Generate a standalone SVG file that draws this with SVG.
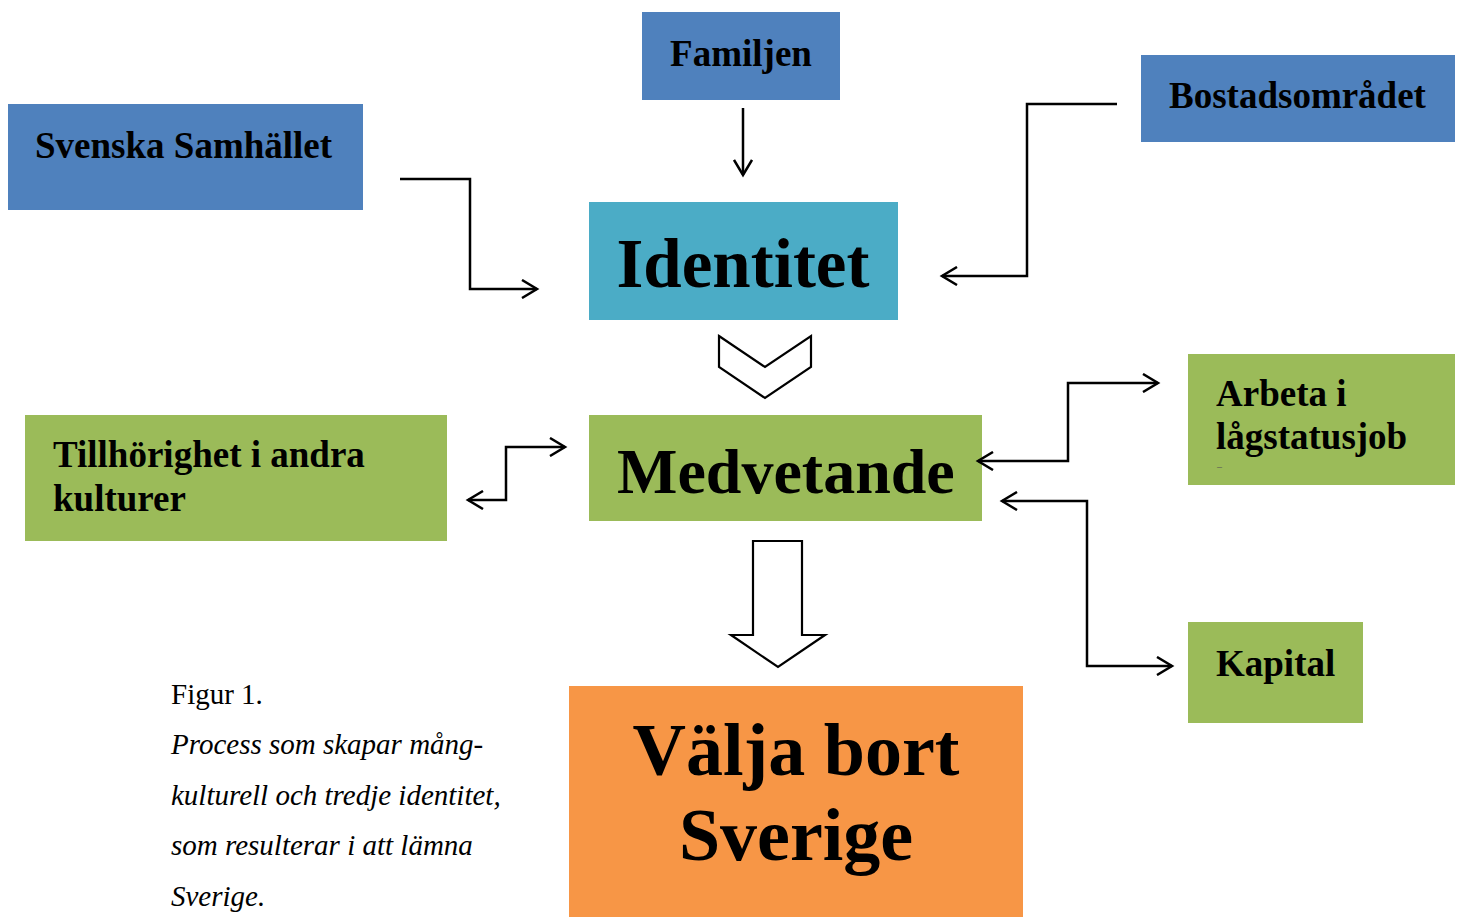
<svg xmlns="http://www.w3.org/2000/svg" width="1460" height="917" viewBox="0 0 1460 917">
<defs>
<style>
.lbl{font-family:"Liberation Serif","Times New Roman",serif;font-weight:bold;fill:#000}
.con{fill:none;stroke:#000;stroke-width:2.5;stroke-linejoin:miter}
.shape{fill:#fff;stroke:#000;stroke-width:2.2;stroke-linejoin:miter}
.cap{font-family:"Liberation Serif","Times New Roman",serif;font-size:29px;fill:#000}
</style>
<marker id="ah" viewBox="0 0 20 20" refX="17" refY="10" markerWidth="20" markerHeight="20" markerUnits="userSpaceOnUse" orient="auto-start-reverse">
<path d="M2,1 L17,10 L2,19" fill="none" stroke="#000" stroke-width="2.5"/>
</marker>
</defs>
<rect width="1460" height="917" fill="#fff"/>
<g id="familjen"><rect x="642" y="12" width="198" height="88" fill="#4F81BD"/><text class="lbl" x="741" y="66" font-size="37" text-anchor="middle">Familjen</text></g>
<g id="svenska"><rect x="8" y="104" width="355" height="106" fill="#4F81BD"/><text class="lbl" x="35" y="158" font-size="37">Svenska Samhället</text></g>
<g id="bostad"><rect x="1141" y="55" width="314" height="87" fill="#4F81BD"/><text class="lbl" x="1169" y="108" font-size="37">Bostadsområdet</text></g>
<g id="identitet"><rect x="589" y="202" width="309" height="118" fill="#4BACC6"/><text class="lbl" x="743" y="287" font-size="69" text-anchor="middle">Identitet</text></g>
<g id="medvetande"><rect x="589" y="415" width="393" height="106" fill="#9BBB59"/><text class="lbl" x="617" y="493" font-size="64">Medvetande</text></g>
<g id="tillhorighet"><rect x="25" y="415" width="422" height="126" fill="#9BBB59"/><text class="lbl" x="53" y="467" font-size="37">Tillhörighet i andra</text><text class="lbl" x="53" y="511" font-size="37">kulturer</text></g>
<g id="arbeta"><rect x="1188" y="354" width="267" height="131" fill="#9BBB59"/><text class="lbl" x="1216" y="406" font-size="37">Arbeta i</text><text class="lbl" x="1216" y="449" font-size="37">lågstatusjob</text><text x="1217" y="470" font-family="Liberation Serif,serif" font-size="10" fill="#555">–</text></g>
<g id="kapital"><rect x="1188" y="622" width="175" height="101" fill="#9BBB59"/><text class="lbl" x="1216" y="676" font-size="37">Kapital</text></g>
<g id="valja"><rect x="569" y="686" width="454" height="231" fill="#F79646"/><text class="lbl" x="796" y="775" font-size="74" text-anchor="middle">Välja bort</text><text class="lbl" x="796" y="860" font-size="74" text-anchor="middle">Sverige</text></g>
<g id="caption"><text class="cap" x="171" y="704">Figur 1.</text><text class="cap" x="171" y="754" font-style="italic">Process som skapar mång-</text><text class="cap" x="171" y="805" font-style="italic">kulturell och tredje identitet,</text><text class="cap" x="171" y="855" font-style="italic">som resulterar i att lämna</text><text class="cap" x="171" y="906" font-style="italic">Sverige.</text></g>
<g id="connectors">
<path class="con" d="M743,108 L743,175" marker-end="url(#ah)"/>
<path class="con" d="M400,179 L470,179 L470,289 L537,289" marker-end="url(#ah)"/>
<path class="con" d="M1117,104 L1027,104 L1027,276 L942,276" marker-end="url(#ah)"/>
<path class="con" d="M468,500 L506,500 L506,447 L565,447" marker-start="url(#ah)" marker-end="url(#ah)"/>
<path class="con" d="M978,461 L1068,461 L1068,383 L1158,383" marker-start="url(#ah)" marker-end="url(#ah)"/>
<path class="con" d="M1002,501 L1087,501 L1087,666 L1172,666" marker-start="url(#ah)" marker-end="url(#ah)"/>
<polygon id="chevron" class="shape" points="719,336 765,367 811,336 811,367 765,398 719,367"/>
<polygon id="blockarrow" class="shape" points="753,541 802,541 802,635 825,635 778,667 731,635 753,635"/>
</g>
</svg>
